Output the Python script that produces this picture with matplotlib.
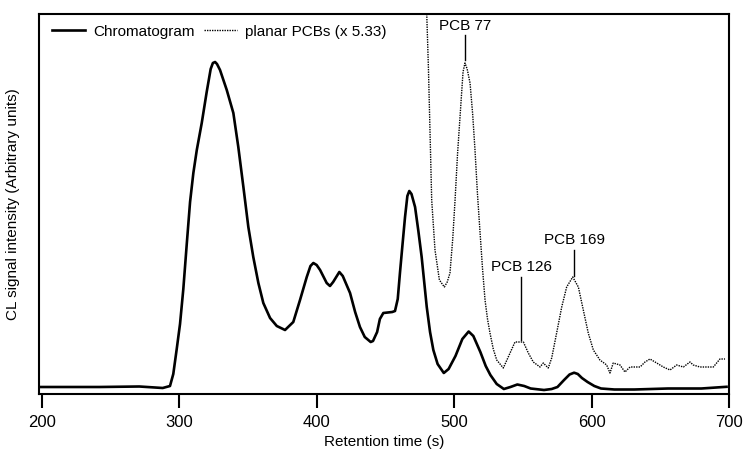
import matplotlib
matplotlib.use("Agg")
import matplotlib.pyplot as plt

# Chromatogram (solid): retention time (s), signal (arbitrary units)
chrom_t = [198, 242, 271, 288, 293.3, 295.7, 298.2, 300.6, 303.0, 305.5, 307.9, 310.3, 312.8,
           316.4, 320.0, 322.9, 324.5, 326.1, 327.5, 329.7, 334.6, 339.4, 343.0, 346.7,
           350.3, 353.9, 357.6, 361.2, 366.1, 371.0, 377.0, 383.0, 387.9, 392.8, 395.5,
           397.6, 400.0, 402.5, 407.3, 409.7, 412.0, 416.5, 419.0, 424.3, 428.0, 431.5,
           435.0, 439.3, 441.0, 444.0, 446.0, 448.5, 455.0, 457.0, 459.0, 460.6, 462.5,
           464.3, 466.0, 467.4, 469.0, 471.6, 474.0, 476.4, 480.1, 482.5, 484.9, 488.0,
           492.5, 496.0, 501.0, 506.0, 510.6, 514.0, 519.1, 523.0, 526.4, 531.0, 536.2,
           541.0, 546.0, 551.0, 555.7, 565.4, 571.0, 575.2, 580.0, 584.0, 587.3, 590.0,
           593.0, 597.1, 602.0, 606.9, 616.6, 631.2, 655.6, 679.9, 698.2]
chrom_y = [7, 7, 7.5, 6, 8, 20, 45, 70, 105, 150, 192, 221, 244,
           271, 302, 325, 331, 332, 330, 324, 304, 281, 247, 207,
           167, 137, 111, 91, 76, 68, 64, 72, 94, 117, 128,
           131, 129, 124, 111, 108, 112, 122, 118, 101, 82, 67,
           57, 52, 53, 62, 75, 81, 82, 83, 95, 121, 150,
           177, 198, 203, 200, 187, 163, 137, 87, 62, 44, 30,
           21, 25, 38, 55, 62.5, 58, 42, 28, 19, 10, 5,
           7, 9.5, 8, 5.5, 4, 5, 7, 14, 19.5, 21.3, 20,
           16, 12, 8, 5.5, 4.5, 4.5, 5.5, 5.5, 7.2]

# Planar PCBs (dotted, x 5.33)
pcb_t = [479.5, 480.1, 481.3, 482.5, 483.7, 486.1, 489.3, 492.9, 495.0, 497.0, 499.0, 500.7,
         502.5, 504.3, 506.5, 507.9, 509.5, 511.6, 513.5, 515.2, 517.0, 518.9, 520.7,
         522.5, 524.3, 526.1, 528.5, 531.0, 535.8, 540.7, 544.3, 550.4, 554.0,
         557.6, 562.5, 564.9, 568.5, 571.0, 574.6, 578.3, 581.9, 586.3, 590.4, 594.0,
         597.6, 601.3, 606.1, 611.0, 613.4, 615.8, 620.7, 624.3, 628.0, 635.3, 638.9,
         642.5, 647.4, 652.2, 657.1, 661.9, 666.8, 671.6, 674.0, 678.9, 688.6, 693.4, 697.1]
pcb_y = [420, 380, 327, 261, 194, 144, 114, 107, 112, 121, 155, 194,
         240, 277, 322, 331, 325, 311, 280, 244, 200, 161, 125,
         94, 75, 61, 45, 34, 26, 41, 52, 52, 41,
         32, 27, 31, 26, 36, 61, 87, 107, 117, 107, 84,
         61, 44, 34, 29, 21, 31, 29, 22, 27, 27, 32,
         35, 31, 27, 24, 29, 27, 32, 29, 27, 27, 35, 35]

xticks = [200, 300, 400, 500, 600, 700]
peak_labels = ["PCB 77", "PCB 126", "PCB 169"]
peak_t = [507.9, 549.0, 587.5]

plt.rcParams['font.family'] = ['Liberation Sans', 'DejaVu Sans']

fig = plt.figure(figsize=(7.45, 4.5), dpi=100)
ax = fig.add_axes([39/745, 1-394/450, 690/745, 380/450])

ax.plot(chrom_t, chrom_y, color='black', lw=1.9, solid_joinstyle='round',
        label='Chromatogram')
ax.plot(pcb_t, pcb_y, color='black', lw=1.0, linestyle=(0, (1, 0.8)),
        label='planar PCBs (x 5.33)')

ax.set_xlim(198, 700)
ax.set_ylim(0, 380)
ax.set_xticks(xticks)
ax.set_xticklabels([str(v) for v in xticks], fontsize=12)
ax.set_yticks([])
ax.tick_params(axis='x', direction='out', length=10, width=1.5, pad=5)
for s in ax.spines.values():
    s.set_linewidth(1.5)

ax.set_xlabel('Retention time (s)', fontsize=11, labelpad=4)
ax.set_ylabel('CL signal intensity (Arbitrary units)', fontsize=11)
ax.yaxis.set_label_coords(-0.028, 0.5)

# Peak annotations: (line bottom, line top, text bottom) in axis units
line_lo = [334, 54, 118]
line_hi = [359, 117, 144]
text_lo = [361, 120, 147]
for lab, t, lo, hi, tl in zip(peak_labels, peak_t, line_lo, line_hi, text_lo):
    ax.plot([t, t], [lo, hi], color='black', lw=1.0)
    ax.text(t, tl, lab, ha='center', va='bottom', fontsize=11)

leg = ax.legend(loc='upper left', ncol=2, frameon=False, fontsize=11,
                handlelength=2.2, handletextpad=0.5, columnspacing=0.6,
                bbox_to_anchor=(0.003, 1.0), borderaxespad=0.3)

fig.savefig('out.png', dpi=100)
